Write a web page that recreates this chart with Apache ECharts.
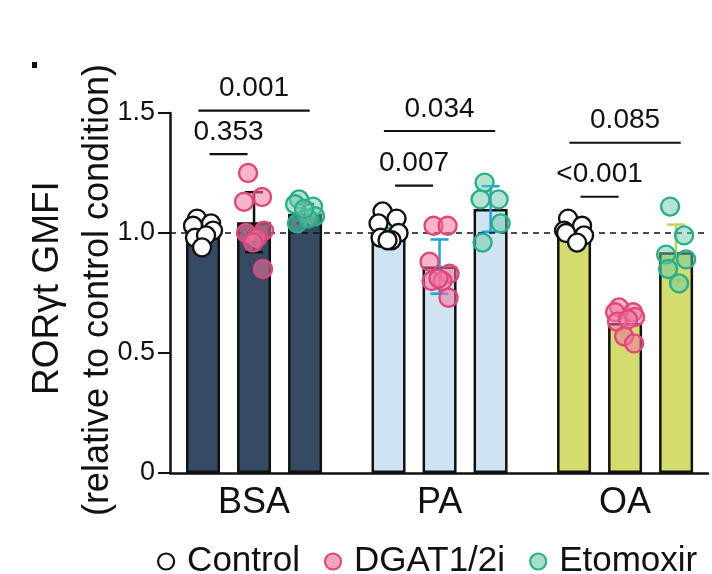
<!DOCTYPE html>
<html>
<head>
<meta charset="utf-8">
<script src="https://cdn.jsdelivr.net/npm/echarts@6/dist/echarts.min.js"></script>
<style>
  html, body { margin: 0; padding: 0; background: #fff; }
  #chart { width: 712px; height: 574px; }
</style>
</head>
<body>
<div id="chart"></div>
<script>
// groups on the x axis and the three conditions
const groups = ['BSA', 'PA', 'OA'];
const conditions = ['Control', 'DGAT1/2i', 'Etomoxir'];

// bar heights (mean) and error (SD) per group
const controlMean = [1.00, 1.00, 1.00];
const dgatMean    = [1.045, 0.86, 0.625];
const etoMean     = [1.08, 1.10, 0.92];

const controlSd = [0.02, 0.02, 0.02];
const dgatSd    = [0.125, 0.113, 0.045];
const etoSd     = [0.04, 0.095, 0.115];

// individual replicates per group
const controlPts = [
  [1.06, 1.04, 1.03, 1.01, 0.98, 0.99, 0.94],
  [1.09, 1.06, 1.04, 1.00, 0.98, 0.97, 0.97],
  [1.06, 1.03, 1.01, 0.99, 1.00, 0.96]
];
const dgatPts = [
  [1.25, 1.15, 1.13, 1.01, 1.00, 0.98, 0.96, 0.85],
  [1.03, 1.03, 0.88, 0.83, 0.80, 0.80, 0.81, 0.73],
  [0.69, 0.67, 0.67, 0.65, 0.63, 0.64, 0.57, 0.54]
];
const etoPts = [
  [1.14, 1.11, 1.12, 1.07, 1.04, 1.06, 1.10],
  [1.21, 1.14, 1.14, 1.04, 0.96],
  [1.11, 0.99, 0.91, 0.89, 0.85, 0.79]
];

// significance brackets: group, pair kind ('short' = ctrl vs DGAT, 'long' = ctrl vs Eto), height, label
const bracketGroup = [0, 0, 1, 1, 2, 2];
const bracketKind  = ['short', 'long', 'short', 'long', 'short', 'long'];
const bracketY     = [1.329, 1.51, 1.197, 1.425, 1.151, 1.376];
const bracketLabel = ['0.353', '0.001', '0.007', '0.034', '<0.001', '0.085'];

const yTicks = [0, 0.5, 1.0, 1.5];

// ---- layout / style constants ----
const FONT = "'Liberation Sans', Arial, Helvetica, sans-serif";
const OFFSET = [-0.275, 0, 0.275];          // bar offsets inside a group (x units)
const PX_PER_UNIT = 185.5;
const JITTER_PX = [-6, 8, -10, 10, -8, 3, -1, 9];
const barColors = ['#364b63', '#cfe3f3', '#d4dc6d'];
const errColors = ['#111111', '#1fa3d8', '#c3d15a'];
const pointStyle = [
  { color: '#ffffff', borderColor: '#111111' },
  { color: 'rgba(238,120,160,0.55)', borderColor: '#e2467c' },
  { color: 'rgba(110,200,170,0.5)', borderColor: '#25b08a' }
];
const legendFill = ['#ffffff', '#f2a5bf', '#a9dcca'];

const means = [controlMean, dgatMean, etoMean];
const sds = [controlSd, dgatSd, etoSd];
const pts = [controlPts, dgatPts, etoPts];

function barX(g, k) {
  return g + 1 + OFFSET[k];
}

// bars
const barData = [];
groups.forEach((name, g) => {
  for (let k = 0; k < 3; k++) {
    barData.push({
      value: [barX(g, k), means[k][g]],
      itemStyle: { color: barColors[g] }
    });
  }
});

// scatter per condition
function scatterData(k) {
  const out = [];
  pts[k].forEach((list, g) => {
    list.forEach((v, i) => {
      out.push([barX(g, k) + JITTER_PX[i % JITTER_PX.length] / PX_PER_UNIT, v]);
    });
  });
  return out;
}

// error bars
const errData = [];
groups.forEach((name, g) => {
  for (let k = 0; k < 3; k++) {
    errData.push([barX(g, k), means[k][g], sds[k][g], g]);
  }
});

// brackets
const bracketData = bracketLabel.map((lab, i) => {
  const c = bracketGroup[i] + 1;
  const span = bracketKind[i] === 'long' ? [c - 0.3, c + 0.3] : [c - 0.24, c - 0.035];
  return [span[0], span[1], bracketY[i], i];
});

const chart = echarts.init(document.getElementById('chart'));

chart.setOption({
  animation: false,
  textStyle: { fontFamily: FONT },
  grid: { left: 170, right: 4, top: 113, bottom: 101 },
  legend: {
    left: 152,
    top: 539,
    icon: 'circle',
    itemWidth: 16,
    itemHeight: 16,
    itemGap: 24,
    textStyle: { fontSize: 35, color: '#111', fontFamily: FONT, padding: [0, 0, 0, 8] },
    data: conditions.map((c, k) => ({
      name: c,
      itemStyle: { color: legendFill[k], borderColor: pointStyle[k].borderColor, borderWidth: 2.2 }
    }))
  },
  xAxis: {
    type: 'value',
    min: 0.547,
    max: 3.447,
    splitLine: { show: false },
    axisTick: { show: false },
    axisLine: { show: true, lineStyle: { color: '#111', width: 2.5 } },
    axisLabel: {
      customValues: [1, 2, 3],
      formatter: v => groups[Math.round(v) - 1],
      fontSize: 36,
      color: '#111',
      margin: 12,
      fontFamily: FONT
    }
  },
  yAxis: {
    type: 'value',
    min: 0,
    max: 1.5,
    interval: 0.5,
    splitLine: { show: false },
    axisLine: { show: true, lineStyle: { color: '#111', width: 2.5 } },
    axisTick: { show: true, length: 12, lineStyle: { color: '#111', width: 2 } },
    axisLabel: {
      customValues: yTicks,
      formatter: v => (v === 0 ? '0' : v.toFixed(1)),
      fontSize: 27,
      color: '#111',
      margin: 15,
      fontFamily: FONT
    }
  },
  graphic: [
    {
      type: 'rect',
      shape: { x: 32, y: 62, width: 5, height: 6 },
      style: { fill: '#111' }
    },
    {
      type: 'text',
      x: 48, y: 288,
      rotation: Math.PI / 2,
      style: {
        text: 'RORγt GMFI',
        font: '37px ' + FONT,
        fill: '#111',
        textAlign: 'center',
        textVerticalAlign: 'middle'
      }
    },
    {
      type: 'text',
      x: 98, y: 290,
      rotation: Math.PI / 2,
      style: {
        text: '(relative to control condition)',
        font: '36px ' + FONT,
        fill: '#111',
        textAlign: 'center',
        textVerticalAlign: 'middle'
      }
    }
  ],
  series: [
    {
      type: 'bar',
      barWidth: 34,
      z: 2,
      itemStyle: { borderColor: '#111', borderWidth: 2.5 },
      data: barData
    },
    {
      type: 'line',
      z: 3,
      data: [],
      markLine: {
        silent: true,
        symbol: 'none',
        label: { show: false },
        lineStyle: { color: '#111', type: [6, 5], width: 1.5 },
        data: [{ yAxis: 1 }]
      }
    },
    {
      type: 'custom',
      z: 4,
      data: errData,
      renderItem: (params, api) => {
        const x = api.value(0);
        const m = api.value(1);
        const sd = api.value(2);
        const g = api.value(3);
        const top = api.coord([x, m + sd]);
        const bot = api.coord([x, m - sd]);
        const half = 9;
        const style = { stroke: errColors[g], lineWidth: 2.5 };
        return {
          type: 'group',
          children: [
            { type: 'line', shape: { x1: top[0], y1: top[1], x2: bot[0], y2: bot[1] }, style },
            { type: 'line', shape: { x1: top[0] - half, y1: top[1], x2: top[0] + half, y2: top[1] }, style },
            { type: 'line', shape: { x1: bot[0] - half, y1: bot[1], x2: bot[0] + half, y2: bot[1] }, style }
          ]
        };
      }
    },
    ...conditions.map((c, k) => ({
      name: c,
      type: 'scatter',
      z: 5,
      symbol: 'circle',
      symbolSize: 18,
      itemStyle: { color: pointStyle[k].color, borderColor: pointStyle[k].borderColor, borderWidth: 2.4, opacity: 1 },
      data: scatterData(k)
    })),
    {
      type: 'custom',
      z: 6,
      data: bracketData,
      renderItem: (params, api) => {
        const p1 = api.coord([api.value(0), api.value(2)]);
        const p2 = api.coord([api.value(1), api.value(2)]);
        const lab = bracketLabel[api.value(3)];
        return {
          type: 'group',
          children: [
            { type: 'line', shape: { x1: p1[0], y1: p1[1], x2: p2[0], y2: p1[1] }, style: { stroke: '#111', lineWidth: 2.2 } },
            {
              type: 'text',
              x: (p1[0] + p2[0]) / 2,
              y: p1[1] - 8,
              style: {
                text: lab,
                font: '28px ' + FONT,
                fill: '#111',
                textAlign: 'center',
                textVerticalAlign: 'bottom'
              }
            }
          ]
        };
      }
    }
  ]
});
</script>
</body>
</html>
